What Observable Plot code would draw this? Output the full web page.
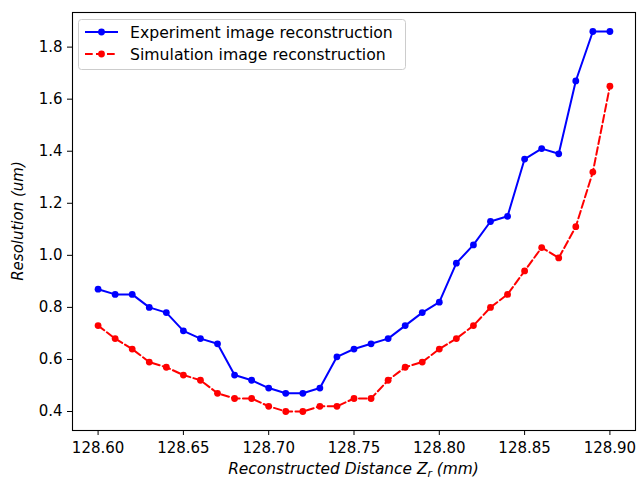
<!DOCTYPE html>
<html>
<head>
<meta charset="utf-8">
<script src="https://cdn.jsdelivr.net/npm/d3@7"></script>
<script src="https://cdn.jsdelivr.net/npm/@observablehq/plot@0.6"></script>
<style>
  html, body { margin: 0; padding: 0; background: #fff; }
  svg { display: block; }
</style>
</head>
<body>
<div id="chart"></div>
<script>
const distances = [128.60,128.61,128.62,128.63,128.64,128.65,128.66,128.67,128.68,128.69,
  128.70,128.71,128.72,128.73,128.74,128.75,128.76,128.77,128.78,128.79,
  128.80,128.81,128.82,128.83,128.84,128.85,128.86,128.87,128.88,128.89,128.90];
const experiment = [0.87,0.85,0.85,0.80,0.78,0.71,0.68,0.66,0.54,0.52,
  0.49,0.47,0.47,0.49,0.61,0.64,0.66,0.68,0.73,0.78,
  0.82,0.97,1.04,1.13,1.15,1.37,1.41,1.39,1.67,1.86,1.86];
const simulation = [0.73,0.68,0.64,0.59,0.57,0.54,0.52,0.47,0.45,0.45,
  0.42,0.40,0.40,0.42,0.42,0.45,0.45,0.52,0.57,0.59,
  0.64,0.68,0.73,0.80,0.85,0.94,1.03,0.99,1.11,1.32,1.65];
const seriesNames = ["Experiment image reconstruction", "Simulation image reconstruction"];
const seriesColors = ["#0000ff", "#ff0000"];
const xTicks = [128.60,128.65,128.70,128.75,128.80,128.85,128.90];
const yTicks = [0.4,0.6,0.8,1.0,1.2,1.4,1.6,1.8];
const xLabel = "Reconstructed Distance Z";
const xLabelSub = "r";
const xLabelUnit = " (mm)";
const yLabel = "Resolution (um)";

const expData = distances.map((d, i) => ({x: d, y: experiment[i]}));
const simData = distances.map((d, i) => ({x: d, y: simulation[i]}));

const font = "'DejaVu Sans', sans-serif";
const fs = 15;

const plot = Plot.plot({
  width: 637,
  height: 479,
  marginLeft: 72,
  marginRight: 2,
  marginTop: 12,
  marginBottom: 49,
  style: {fontFamily: font, fontSize: fs + "px", color: "#000", background: "#fff", overflow: "visible"},
  x: {domain: [128.585, 128.915]},
  y: {domain: [0.327, 1.933]},
  marks: [
    Plot.frame({stroke: "#000", strokeWidth: 1.1}),
    Plot.axisX({ticks: xTicks, tickFormat: d => d.toFixed(2), tickSize: 5, tickPadding: 7, label: null, fontSize: fs, stroke: "#000", fill: "#000"}),
    Plot.axisY({ticks: yTicks, tickFormat: d => d.toFixed(1), tickSize: 5, tickPadding: 5, label: null, fontSize: fs, stroke: "#000", fill: "#000"}),
    Plot.line(expData, {x: "x", y: "y", stroke: seriesColors[0], strokeWidth: 2}),
    Plot.dot(expData, {x: "x", y: "y", fill: seriesColors[0], r: 3.4, stroke: null}),
    Plot.line(simData, {x: "x", y: "y", stroke: seriesColors[1], strokeWidth: 2, strokeDasharray: "7.7,3.3"}),
    Plot.dot(simData, {x: "x", y: "y", fill: seriesColors[1], r: 3.4, stroke: null})
  ]
});

document.getElementById("chart").appendChild(plot);

// Axis titles and legend
const svg = d3.select(plot);
const W = 637, H = 479, mL = 72, mR = 2, mT = 12, mB = 49;
const cx = (mL + (W - mR)) / 2, cy = (mT + (H - mB)) / 2;

const xt = svg.append("text")
  .attr("x", cx).attr("y", 474)
  .attr("text-anchor", "middle")
  .attr("font-family", font).attr("font-size", 15.4).attr("font-style", "italic").attr("fill", "#000");
xt.append("tspan").text(xLabel);
xt.append("tspan").attr("font-size", 10.8).attr("dy", 3).text(xLabelSub);
xt.append("tspan").attr("dy", -3).text(xLabelUnit);

svg.append("text")
  .attr("transform", `translate(23,${cy}) rotate(-90)`)
  .attr("text-anchor", "middle")
  .attr("font-family", font).attr("font-size", fs).attr("font-style", "italic").attr("fill", "#000")
  .text(yLabel);

const lg = svg.append("g").attr("transform", "translate(78,19)");
lg.append("rect").attr("x", 0.5).attr("y", 0.5).attr("width", 327).attr("height", 50)
  .attr("rx", 3).attr("fill", "#fff").attr("fill-opacity", 0.8).attr("stroke", "#cccccc");
seriesNames.forEach((name, i) => {
  const yy = 13 + i * 22;
  lg.append("line").attr("x1", 7).attr("x2", 40).attr("y1", yy).attr("y2", yy)
    .attr("stroke", seriesColors[i]).attr("stroke-width", 2)
    .attr("stroke-dasharray", i === 1 ? "7.7,3.3" : null);
  lg.append("circle").attr("cx", 23.5).attr("cy", yy).attr("r", 3.4).attr("fill", seriesColors[i]);
  lg.append("text").attr("x", 52).attr("y", yy + 5.5)
    .attr("text-anchor", "start")
    .attr("font-family", font).attr("font-size", 15.7).attr("fill", "#000").text(name);
});
</script>
</body>
</html>
